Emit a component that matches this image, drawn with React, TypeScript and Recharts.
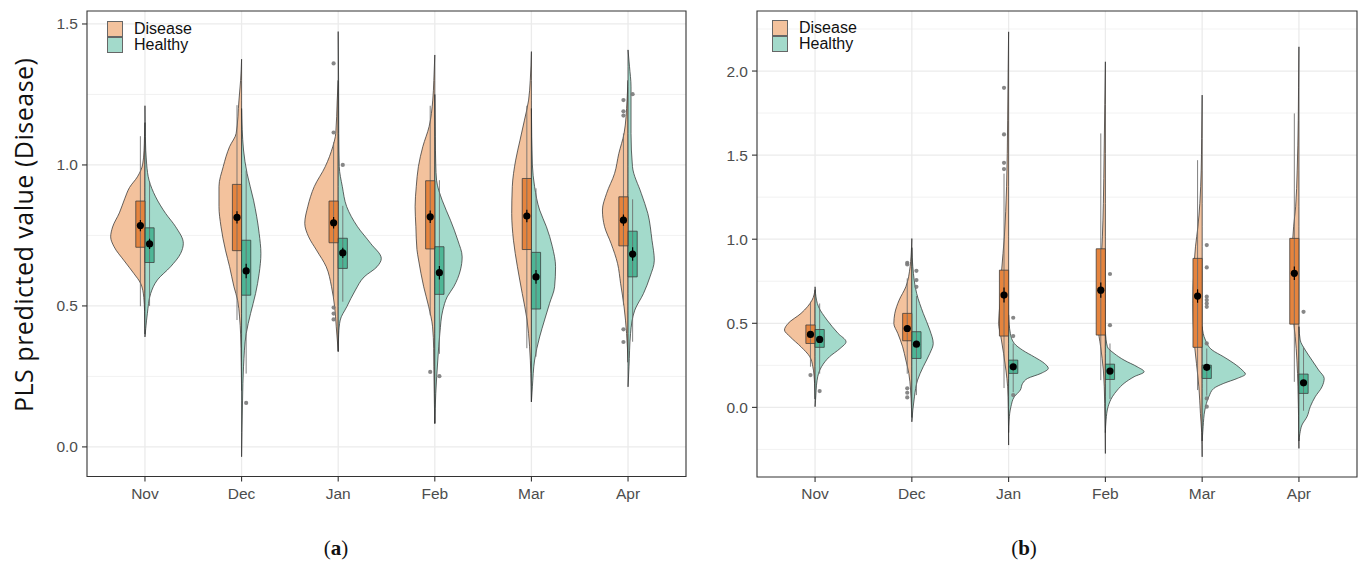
import React from 'react';
import { ComposedChart, Area, Line, Scatter, XAxis, YAxis, CartesianGrid, ReferenceArea } from 'recharts';

type Prof = [number, number][];

const months = ['Nov', 'Dec', 'Jan', 'Feb', 'Mar', 'Apr'];
const monthPositions = [100, 200, 300, 400, 500, 600];

// ---------- Panel (a) ----------
const aYTicks = [0, 0.5, 1.0, 1.5];
const aYMinor = [0.25, 0.75, 1.25];
const aYDomain: [number, number] = [-0.105, 1.546];

const aDiseaseViolins: Prof[] = [
  [[1.15, 0], [1.10, 0.5], [1.05, 1], [1.0, 2.5], [0.958, 7.8], [0.92, 16], [0.88, 21], [0.83, 26.5], [0.78, 33.5], [0.745, 35.5], [0.71, 32], [0.66, 21.5], [0.615, 11.5], [0.58, 4.5], [0.53, 1.2], [0.48, 0.4], [0.40, 0]],
  [[1.375, 0], [1.30, 1], [1.23, 2.7], [1.112, 5.6], [1.065, 12.4], [0.994, 19], [0.923, 23.4], [0.852, 23.4], [0.781, 21.3], [0.698, 16.7], [0.639, 12.4], [0.568, 7.9], [0.52, 4.1], [0.461, 2.1], [0.40, 1], [0.30, 0.4], [0.2, 0]],
  [[1.30, 0], [1.23, 1], [1.112, 2.5], [1.065, 5.6], [0.994, 13.4], [0.923, 24.8], [0.852, 31.5], [0.793, 34.6], [0.745, 30.6], [0.698, 22.5], [0.639, 12.4], [0.568, 6.9], [0.497, 3.7], [0.426, 2], [0.34, 0]],
  [[1.39, 0], [1.30, 1], [1.23, 2.1], [1.136, 5.9], [1.065, 12.4], [0.994, 17], [0.923, 19.2], [0.852, 20.4], [0.781, 19.6], [0.70, 18.5], [0.663, 16.8], [0.568, 11.5], [0.497, 6.3], [0.426, 2.3], [0.35, 1.2], [0.284, 1], [0.15, 0.4], [0.083, 0]],
  [[1.402, 0], [1.30, 1.2], [1.23, 2.9], [1.159, 7.2], [1.088, 11.8], [1.017, 16.3], [0.923, 19.8], [0.828, 20.4], [0.733, 18.6], [0.639, 14.5], [0.544, 9.5], [0.45, 4.5], [0.355, 1.9], [0.26, 0.6], [0.16, 0]],
  [[1.30, 0], [1.23, 1], [1.112, 4.1], [1.041, 9.5], [0.97, 13.9], [0.899, 22.2], [0.84, 26.5], [0.781, 24.3], [0.722, 17.6], [0.65, 10.8], [0.58, 7.7], [0.497, 4.1], [0.402, 1.5], [0.30, 0]],
];
const aHealthyViolins: Prof[] = [
  [[1.21, 0], [1.10, 0.4], [1.0, 1.8], [0.946, 4.2], [0.887, 11], [0.828, 21.4], [0.781, 31.7], [0.722, 39.7], [0.686, 36.9], [0.639, 26.5], [0.592, 12.8], [0.544, 5.9], [0.474, 2.5], [0.42, 0.8], [0.39, 0]],
  [[1.2, 0], [1.053, 2], [0.97, 5.7], [0.875, 12.4], [0.757, 18.2], [0.686, 20], [0.615, 18.2], [0.544, 14.5], [0.473, 9.3], [0.402, 4.8], [0.284, 2], [0.166, 1], [0.05, 0.4], [-0.035, 0]],
  [[1.473, 0], [1.30, 0.4], [1.112, 0.6], [0.994, 1.1], [0.923, 4.3], [0.852, 8.8], [0.781, 20], [0.722, 33.5], [0.668, 44.6], [0.639, 40.2], [0.603, 26.9], [0.556, 17.8], [0.497, 8.9], [0.45, 2.1], [0.40, 0.5], [0.337, 0]],
  [[1.25, 0], [1.10, 0.5], [1.0, 1], [0.946, 1.8], [0.875, 7.6], [0.804, 16.2], [0.733, 23.8], [0.674, 28.3], [0.627, 26.5], [0.568, 19.6], [0.532, 12.8], [0.485, 8.3], [0.402, 5.2], [0.308, 3.1], [0.19, 1], [0.083, 0]],
  [[1.2, 0], [1.0, 1], [0.923, 3.3], [0.84, 8.5], [0.781, 15.5], [0.71, 21.7], [0.639, 25], [0.568, 24], [0.509, 18.8], [0.45, 13.6], [0.39, 8.5], [0.308, 3.3], [0.213, 1], [0.16, 0]],
  [[1.408, 0], [1.35, 1.5], [1.277, 3.1], [1.112, 3.1], [0.994, 4.6], [0.899, 13.7], [0.828, 20.5], [0.733, 24.8], [0.662, 27.2], [0.603, 22.7], [0.544, 16], [0.485, 7], [0.402, 2.6], [0.284, 1], [0.213, 0]],
];
const aDiseaseQ1 = [0.708, 0.696, 0.724, 0.702, 0.700, 0.713];
const aDiseaseQ3 = [0.872, 0.931, 0.872, 0.944, 0.952, 0.887];
const aDiseaseMean = [0.785, 0.814, 0.795, 0.816, 0.819, 0.804];
const aDiseaseSE = [0.02, 0.022, 0.02, 0.022, 0.022, 0.02];
const aDiseaseLo = [0.499, 0.45, 0.53, 0.467, 0.35, 0.503];
const aDiseaseHi = [1.102, 1.212, 1.08, 1.21, 1.21, 1.112];
const aHealthyQ1 = [0.654, 0.538, 0.633, 0.541, 0.489, 0.603];
const aHealthyQ3 = [0.777, 0.733, 0.74, 0.71, 0.69, 0.765];
const aHealthyMean = [0.720, 0.624, 0.688, 0.618, 0.603, 0.684];
const aHealthySE = [0.018, 0.026, 0.018, 0.024, 0.024, 0.024];
const aHealthyLo = [0.50, 0.26, 0.515, 0.33, 0.32, 0.373];
const aHealthyHi = [0.94, 0.98, 0.855, 0.946, 0.917, 0.878];
const aDiseaseOutliers: [number, number][] = [[2, 1.36], [2, 1.115], [2, 0.494], [2, 0.473], [2, 0.452], [3, 0.266], [5, 1.23], [5, 1.19], [5, 1.175], [5, 0.417], [5, 0.372]];
const aHealthyOutliers: [number, number][] = [[1, 0.156], [2, 1.0], [3, 0.251], [5, 1.251]];

// ---------- Panel (b) ----------
const bYTicks = [0, 0.5, 1.0, 1.5, 2.0];
const bYMinor = [-0.25, 0.25, 0.75, 1.25, 1.75, 2.25];
const bYDomain: [number, number] = [-0.414, 2.357];

const bDiseaseViolins: Prof[] = [
  [[0.70, 0], [0.638, 3.1], [0.559, 14.5], [0.499, 27.9], [0.46, 31.6], [0.42, 25.8], [0.36, 14.5], [0.301, 5.4], [0.242, 2.3], [0.143, 0.5], [0.05, 0]],
  [[1.004, 0], [0.90, 0.8], [0.836, 1.8], [0.717, 6.2], [0.638, 13.1], [0.559, 17.6], [0.499, 18.6], [0.44, 14.5], [0.36, 9.5], [0.281, 6.2], [0.202, 3.1], [0.103, 1.3], [0.0, 0.4], [-0.06, 0]],
  [[2.233, 0], [2.0, 0.5], [1.708, 1], [1.312, 2.1], [1.014, 4.4], [0.816, 7.2], [0.618, 9], [0.50, 10.3], [0.42, 8], [0.321, 5.2], [0.222, 2.8], [0.122, 1], [0.0, 0.4], [-0.224, 0]],
  [[2.055, 0], [1.8, 0.6], [1.51, 1.3], [1.213, 2.1], [1.014, 3.1], [0.816, 4.9], [0.618, 6.5], [0.48, 7.5], [0.36, 4.9], [0.222, 2.1], [0.024, 0.7], [-0.274, 0]],
  [[1.857, 0], [1.6, 0.5], [1.411, 1], [1.213, 2.4], [1.074, 4.4], [0.955, 6.9], [0.816, 8.6], [0.618, 9.6], [0.42, 8.6], [0.262, 5.9], [0.122, 3.4], [-0.036, 1.8], [-0.15, 0.5], [-0.294, 0]],
  [[2.144, 0], [1.9, 0.4], [1.708, 0.7], [1.411, 1.8], [1.193, 3.4], [1.074, 5.5], [0.916, 7.2], [0.717, 8], [0.559, 6.5], [0.42, 3.8], [0.281, 2.1], [0.122, 1], [-0.05, 0.4], [-0.244, 0]],
];
const bHealthyViolins: Prof[] = [
  [[0.717, 0], [0.677, 0.5], [0.598, 3.6], [0.519, 12.4], [0.44, 23.8], [0.39, 32], [0.35, 25.8], [0.301, 14.9], [0.242, 6.7], [0.162, 2.1], [0.043, 0.5], [0.004, 0]],
  [[0.95, 0], [0.836, 1], [0.677, 5], [0.559, 11.8], [0.46, 18.6], [0.38, 22.1], [0.321, 18.6], [0.242, 11.8], [0.162, 5.9], [0.063, 2.7], [-0.016, 1], [-0.086, 0]],
  [[0.55, 0], [0.44, 1.8], [0.38, 5.9], [0.34, 14.5], [0.30, 26.5], [0.262, 36.9], [0.232, 41], [0.202, 33.4], [0.172, 19.6], [0.143, 14.5], [0.103, 12.1], [0.063, 5.9], [0.004, 2.4], [-0.075, 0.5], [-0.15, 0]],
  [[0.45, 0], [0.36, 2.1], [0.321, 9], [0.281, 19.3], [0.241, 33], [0.212, 40], [0.182, 29.6], [0.143, 19.3], [0.103, 12.4], [0.063, 7.2], [0.004, 2.8], [-0.075, 0.7], [-0.15, 0]],
  [[0.48, 0], [0.40, 3.4], [0.341, 10.3], [0.30, 22.4], [0.262, 32.7], [0.222, 41.3], [0.198, 44.7], [0.172, 36.2], [0.143, 22.4], [0.113, 12.1], [0.063, 6.9], [-0.016, 2.8], [-0.115, 1], [-0.2, 0]],
  [[0.48, 0], [0.40, 1.3], [0.341, 6.5], [0.281, 13.4], [0.222, 20.3], [0.172, 26.1], [0.122, 23.8], [0.063, 16.8], [0.004, 11.7], [-0.056, 8.3], [-0.105, 3.1], [-0.155, 1], [-0.2, 0]],
];
const bDiseaseQ1 = [0.38, 0.396, 0.424, 0.43, 0.357, 0.495];
const bDiseaseQ3 = [0.49, 0.559, 0.816, 0.943, 0.886, 1.005];
const bDiseaseMean = [0.434, 0.469, 0.668, 0.697, 0.662, 0.797];
const bDiseaseSE = [0.015, 0.02, 0.045, 0.045, 0.04, 0.04];
const bDiseaseLo = [0.242, 0.2, 0.115, 0.162, 0.103, 0.152];
const bDiseaseHi = [0.628, 0.767, 1.39, 1.629, 1.47, 1.748];
const bHealthyQ1 = [0.357, 0.291, 0.202, 0.166, 0.172, 0.083];
const bHealthyQ3 = [0.463, 0.45, 0.281, 0.257, 0.251, 0.198];
const bHealthyMean = [0.404, 0.376, 0.241, 0.216, 0.238, 0.146];
const bHealthySE = [0.015, 0.015, 0.012, 0.012, 0.012, 0.012];
const bHealthyLo = [0.2, 0.073, 0.09, 0.05, 0.07, -0.02];
const bHealthyHi = [0.618, 0.662, 0.38, 0.38, 0.35, 0.36];
const bDiseaseOutliers: [number, number][] = [[0, 0.192], [1, 0.86], [1, 0.85], [1, 0.113], [1, 0.087], [1, 0.059], [2, 1.9], [2, 1.623], [2, 1.454], [2, 1.417]];
const bHealthyOutliers: [number, number][] = [[0, 0.097], [1, 0.812], [1, 0.757], [1, 0.717], [2, 0.533], [2, 0.424], [2, 0.073], [3, 0.793], [3, 0.489], [4, 0.965], [4, 0.832], [4, 0.658], [4, 0.638], [4, 0.618], [4, 0.598], [4, 0.38], [4, 0.053], [4, 0.004], [5, 0.568]];

// ---------- styles ----------
const D_VIOLIN = '#F3C29D';
const H_VIOLIN = '#A3DACB';
const D_BOX = '#E5843E';
const H_BOX = '#4EB696';
const OUTLINE = '#333333';
const BOX_W = 9.5;
const X_DOMAIN: [number, number] = [40, 660];
const TICK_FONT = { fill: '#4D4D4D', fontSize: 15.5, fontFamily: 'Liberation Sans, Arial, sans-serif' };

interface Group {
  side: number; viol: Prof[]; q1: number[]; q3: number[]; mean: number[]; se: number[];
  lo: number[]; hi: number[]; out: [number, number][]; vFill: string; bFill: string;
}

interface PanelProps {
  width: number; height: number;
  margin: { top: number; right: number; bottom: number; left: number };
  yDomain: [number, number]; yTicks: number[]; yMinor: number[];
  groups: Group[];
}

const MeanDot = (p: any) => <circle cx={p.cx} cy={p.cy} r={3.6} fill="#000" />;
const OutDot = (p: any) => <circle cx={p.cx} cy={p.cy} r={2.1} fill="#7A7A7A" fillOpacity={0.9} />;

function Panel({ width, height, margin, yDomain, yTicks, yMinor, groups }: PanelProps) {
  const violins: React.ReactNode[] = [];
  const boxes: React.ReactNode[] = [];
  const means: { x: number; v: number }[] = [];
  const outs: { x: number; v: number }[] = [];
  groups.forEach((g, gi) => {
    g.viol.forEach((prof, i) => {
      const c = monthPositions[i];
      const data = prof.map(([v, w]) => ({ v, r: g.side < 0 ? [c - w, c] : [c, c + w] }));
      violins.push(
        <Area key={`v${gi}-${i}`} data={data} dataKey="r" type="monotone" fill={g.vFill} fillOpacity={1}
          stroke={OUTLINE} strokeWidth={0.75} dot={false} activeDot={false} isAnimationActive={false} />
      );
    });
  });
  groups.forEach((g, gi) => {
    monthPositions.forEach((c, i) => {
      const b0 = g.side < 0 ? c - BOX_W : c;
      const b1 = g.side < 0 ? c : c + BOX_W;
      const wx = (b0 + b1) / 2;
      const q1 = g.q1[i], q3 = g.q3[i];
      const whisk = [
        { v: g.hi[i], x: wx }, { v: q3, x: wx }, { v: (q1 + q3) / 2, x: null },
        { v: q1, x: wx }, { v: g.lo[i], x: wx },
      ];
      boxes.push(
        <Line key={`w${gi}-${i}`} data={whisk} dataKey="x" type="linear" stroke="#6A6A6A" strokeWidth={0.85}
          dot={false} activeDot={false} isAnimationActive={false} connectNulls={false} />
      );
      boxes.push(
        <Area key={`bf${gi}-${i}`} data={[{ v: q3, r: [b0, b1] }, { v: q1, r: [b0, b1] }]} dataKey="r" type="linear"
          fill={g.bFill} fillOpacity={1} stroke="none" dot={false} activeDot={false} isAnimationActive={false} />
      );
      boxes.push(
        <Line key={`bl${gi}-${i}`} data={[{ v: q1, x: b0 }, { v: q3, x: b0 }, { v: q3, x: b1 }, { v: q1, x: b1 }, { v: q1, x: b0 }]}
          dataKey="x" type="linear" stroke="#3A3A3A" strokeWidth={0.75} dot={false} activeDot={false} isAnimationActive={false} />
      );
      boxes.push(
        <Line key={`e${gi}-${i}`} data={[{ v: g.mean[i] + g.se[i], x: wx }, { v: g.mean[i] - g.se[i], x: wx }]}
          dataKey="x" type="linear" stroke="#000" strokeWidth={1.2} dot={false} activeDot={false} isAnimationActive={false} />
      );
      means.push({ x: wx, v: g.mean[i] });
    });
    g.out.forEach(([i, v]) => {
      const c = monthPositions[i];
      outs.push({ x: c + g.side * BOX_W / 2, v });
    });
  });

  return (
    <ComposedChart width={width} height={height} layout="vertical" margin={margin}>
      <CartesianGrid horizontalValues={yMinor} vertical={false} stroke="#EDEDED" strokeWidth={0.7} />
      <CartesianGrid horizontalValues={yTicks} verticalValues={monthPositions} stroke="#EBEBEB" strokeWidth={1.3} />
      <XAxis type="number" dataKey="x" domain={X_DOMAIN} allowDataOverflow ticks={monthPositions} interval={0}
        tickFormatter={(val: number) => months[Math.round(val / 100) - 1]} axisLine={false}
        tickLine={{ stroke: OUTLINE, strokeWidth: 1.1 }} tickSize={5} tickMargin={6} tick={TICK_FONT} height={30} />
      <YAxis type="number" dataKey="v" domain={yDomain} allowDataOverflow ticks={yTicks} interval={0} reversed
        tickFormatter={(val: number) => val.toFixed(1)} axisLine={false}
        tickLine={{ stroke: OUTLINE, strokeWidth: 1.1 }} tickSize={5} tickMargin={4} tick={TICK_FONT} width={40} />
      {violins}
      {boxes}
      <Scatter data={outs} fill="#7A7A7A" shape={OutDot} isAnimationActive={false} />
      <Scatter data={means} fill="#000" shape={MeanDot} isAnimationActive={false} />
      <ReferenceArea x1={X_DOMAIN[0]} x2={X_DOMAIN[1]} y1={yDomain[0]} y2={yDomain[1]} fill="none" fillOpacity={0}
        stroke={OUTLINE} strokeWidth={1.1} strokeOpacity={1} ifOverflow="visible" />
    </ComposedChart>
  );
}

function LegendBox({ left, top }: { left: number; top: number }) {
  const item = (fill: string, label: string, y: number) => (
    <div style={{ position: 'absolute', left: 0, top: y, height: 16, display: 'flex', alignItems: 'center' }}>
      <div style={{ width: 14, height: 14, background: fill, border: '1px solid #666', boxSizing: 'content-box' }} />
      <span style={{ marginLeft: 11, fontFamily: 'Liberation Sans, Arial, sans-serif', fontSize: 16, color: '#111', lineHeight: '16px' }}>{label}</span>
    </div>
  );
  return (
    <div style={{ position: 'absolute', left, top, width: 120, height: 34 }}>
      {item(D_VIOLIN, 'Disease', 0)}
      {item(H_VIOLIN, 'Healthy', 16)}
    </div>
  );
}

export default function App() {
  const aGroups: Group[] = [
    { side: -1, viol: aDiseaseViolins, q1: aDiseaseQ1, q3: aDiseaseQ3, mean: aDiseaseMean, se: aDiseaseSE, lo: aDiseaseLo, hi: aDiseaseHi, out: aDiseaseOutliers, vFill: D_VIOLIN, bFill: D_BOX },
    { side: 1, viol: aHealthyViolins, q1: aHealthyQ1, q3: aHealthyQ3, mean: aHealthyMean, se: aHealthySE, lo: aHealthyLo, hi: aHealthyHi, out: aHealthyOutliers, vFill: H_VIOLIN, bFill: H_BOX },
  ];
  const bGroups: Group[] = [
    { side: -1, viol: bDiseaseViolins, q1: bDiseaseQ1, q3: bDiseaseQ3, mean: bDiseaseMean, se: bDiseaseSE, lo: bDiseaseLo, hi: bDiseaseHi, out: bDiseaseOutliers, vFill: D_VIOLIN, bFill: D_BOX },
    { side: 1, viol: bHealthyViolins, q1: bHealthyQ1, q3: bHealthyQ3, mean: bHealthyMean, se: bHealthySE, lo: bHealthyLo, hi: bHealthyHi, out: bHealthyOutliers, vFill: H_VIOLIN, bFill: H_BOX },
  ];
  return (
    <div style={{ position: 'absolute', left: 0, top: 0, width: 1361, height: 565, background: '#fff', overflow: 'hidden' }}>
      <div style={{ position: 'absolute', left: 0, top: 0 }}>
        <Panel width={690} height={565} margin={{ top: 11, right: 4, bottom: 58.5, left: 47 }}
          yDomain={aYDomain} yTicks={aYTicks} yMinor={aYMinor} groups={aGroups} />
      </div>
      <div style={{ position: 'absolute', left: 690, top: 0 }}>
        <Panel width={671} height={565} margin={{ top: 11, right: 4, bottom: 58, left: 27 }}
          yDomain={bYDomain} yTicks={bYTicks} yMinor={bYMinor} groups={bGroups} />
      </div>
      <LegendBox left={107} top={21} />
      <LegendBox left={772} top={20} />
      <svg style={{ position: 'absolute', left: 0, top: 0 }} width={60} height={565}>
        <text transform="translate(33, 235) rotate(-90)" textAnchor="middle" fontFamily="Open Sans, sans-serif"
          fontSize={25} fill="#111" textLength={354} lengthAdjust="spacing">PLS predicted value (Disease)</text>
      </svg>
      <div style={{ position: 'absolute', left: 286, top: 536, width: 100, textAlign: 'center', fontFamily: 'Liberation Serif, serif', fontSize: 21, color: '#111' }}>
        (<b>a</b>)
      </div>
      <div style={{ position: 'absolute', left: 974, top: 536, width: 100, textAlign: 'center', fontFamily: 'Liberation Serif, serif', fontSize: 21, color: '#111' }}>
        (<b>b</b>)
      </div>
    </div>
  );
}
